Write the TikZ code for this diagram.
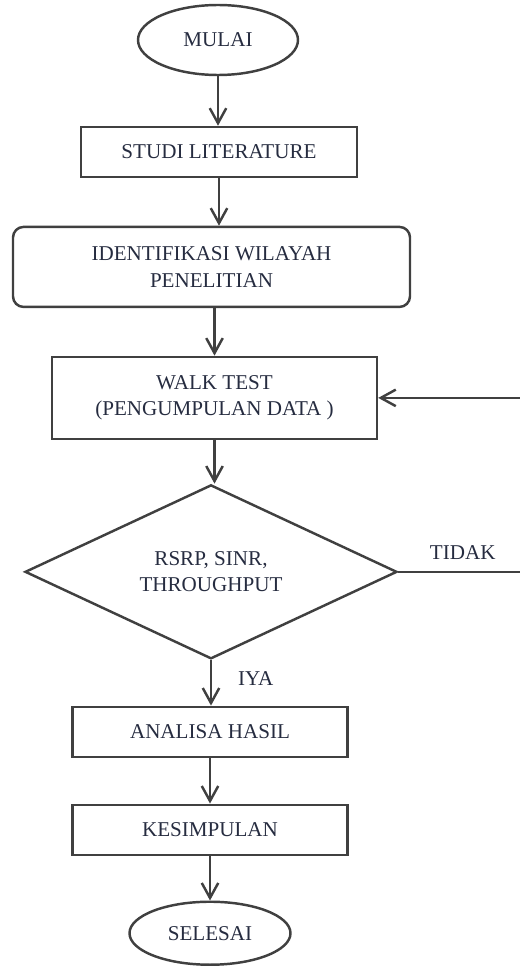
\documentclass[tikz,border=0pt]{standalone}
\usepackage{fontspec}
\setmainfont{Liberation Serif}
\usetikzlibrary{arrows.meta, positioning, shapes.geometric}
\definecolor{ink}{HTML}{262C40}
\definecolor{garis}{HTML}{404040}

\begin{document}
\begin{tikzpicture}[
  font=\fontsize{12}{15}\selectfont,
  term/.style={ellipse, draw=garis, line width=1.4pt, text=ink, inner sep=0pt,
           minimum width=3.2cm, minimum height=1.4cm},
  box/.style={draw=garis, line width=1.4pt, text=ink, align=center, inner sep=0pt,
           minimum width=5.5cm, minimum height=1cm},
  rbox/.style={box, rounded corners=6pt},
  dec/.style={diamond, draw=garis, line width=1.4pt, text=ink, align=center, inner sep=0pt,
           shape aspect=2.1, minimum width=7.44cm, minimum height=3.48cm},
  arr/.style={-{Straight Barb[length=3mm, width=3.3mm]}, line width=1.4pt, color=garis},
  lab/.style={text=ink}
]
  \useasboundingbox (0,0) rectangle (10.4,-19.4);

  \node[term] (mulai) at (4.36,-0.8) {MULAI};
  \node[box] (studi) [below=0.99cm of mulai, xshift=0.02cm, minimum width=5.52cm] {STUDI LITERATURE};
  \node[rbox] (ident) [below=0.95cm of studi, xshift=-0.15cm, minimum width=7.94cm,
        minimum height=1.6cm] {IDENTIFIKASI WILAYAH\\PENELITIAN};
  \node[box] (walk) [below=0.95cm of ident, xshift=0.06cm, minimum width=6.5cm,
        minimum height=1.64cm] {WALK TEST\\(PENGUMPULAN DATA )};
  \node[dec] (cek) [below=0.87cm of walk, xshift=-0.07cm] {RSRP, SINR,\\THROUGHPUT};
  \node[box] (analisa) [below=0.91cm of cek, xshift=-0.02cm] {ANALISA HASIL};
  \node[box] (kes) [below=0.91cm of analisa] {KESIMPULAN};
  \node[term] (selesai) [below=0.89cm of kes, minimum width=3.22cm,
        minimum height=1.26cm] {SELESAI};

  \coordinate[right=2.58cm of cek.east] (balik);

  \draw[arr] (mulai) -- (mulai |- studi.north);
  \draw[arr] (studi) -- (studi |- ident.north);
  \draw[arr] (walk.north |- ident.south) -- (walk.north);
  \draw[arr] (walk) -- (walk |- cek.north);
  \draw[arr] (cek) -- (cek |- analisa.north) node[lab, pos=0.4, right=0.4cm] {IYA};
  \draw[arr] (analisa) -- (analisa |- kes.north);
  \draw[arr] (kes) -- (kes |- selesai.north);
  \draw[arr] (cek.east) -- (balik) node[lab, midway, above=3pt] {TIDAK} |- (walk.east);
\end{tikzpicture}
\end{document}
